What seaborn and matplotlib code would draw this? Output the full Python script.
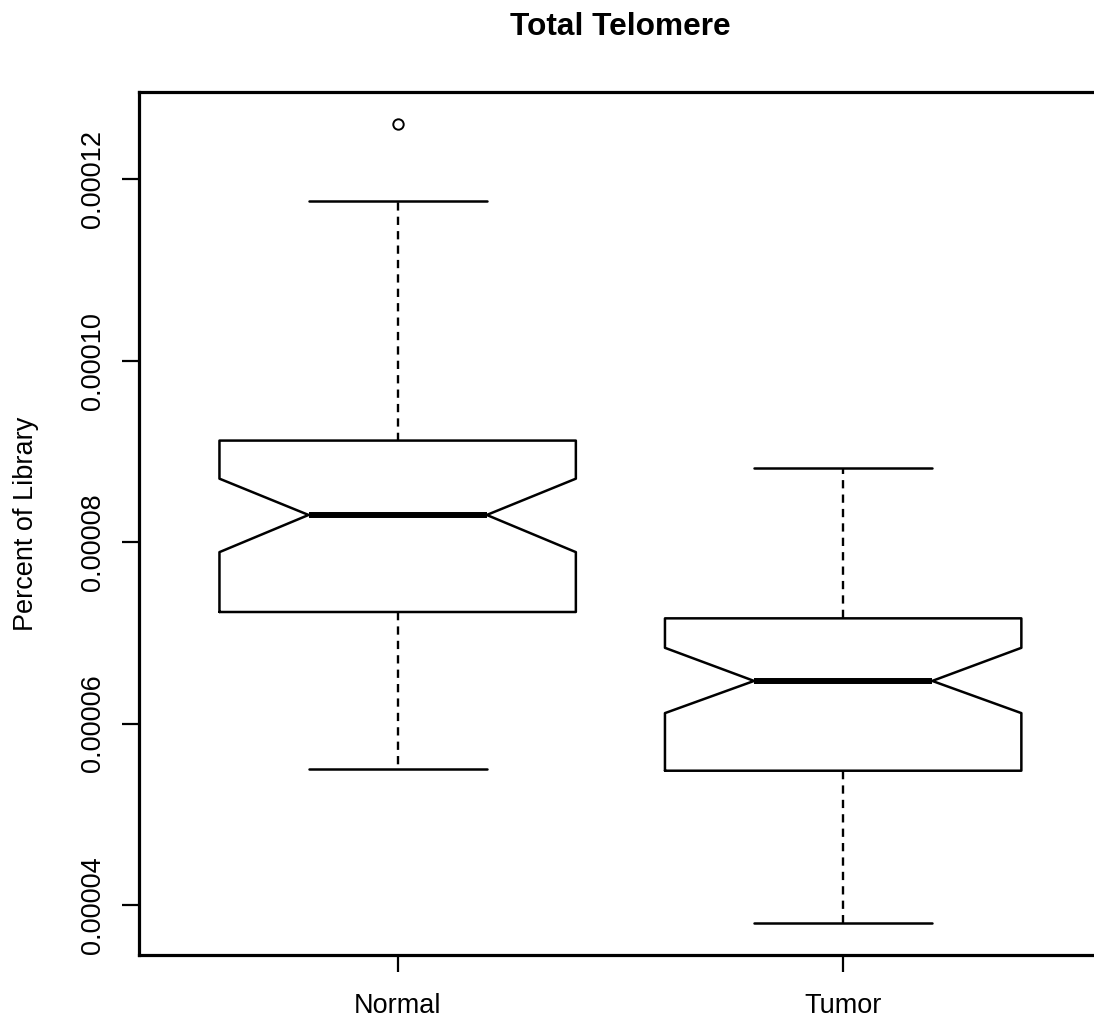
import matplotlib
matplotlib.use("Agg")
import matplotlib.pyplot as plt
import seaborn as sns

# Summary statistics for each group (fraction of library)
groups = ["Normal", "Tumor"]
medians = [8.30e-5, 6.47e-5]
lower_quartiles = [7.23e-5, 5.48e-5]
upper_quartiles = [9.12e-5, 7.16e-5]
whisker_low = [5.50e-5, 3.80e-5]
whisker_high = [11.76e-5, 8.82e-5]
notch_low = [7.89e-5, 6.115e-5]
notch_high = [8.70e-5, 6.835e-5]
outliers = [[12.61e-5], []]

y_ticks = [0.00004, 0.00006, 0.00008, 0.00010, 0.00012]
y_tick_labels = ["0.00004", "0.00006", "0.00008", "0.00010", "0.00012"]

sns.set_theme(style="ticks")
plt.rcParams["font.family"] = ["Liberation Sans", "DejaVu Sans"]

fig = plt.figure(figsize=(10.94, 10.21), dpi=100)
ax = fig.add_axes([0.1273, 0.0646, 0.8796, 0.8452])

stats = []
for i, g in enumerate(groups):
    stats.append(dict(label=g, med=medians[i], q1=lower_quartiles[i],
                      q3=upper_quartiles[i], whislo=whisker_low[i],
                      whishi=whisker_high[i], cilo=notch_low[i],
                      cihi=notch_high[i], fliers=outliers[i]))

positions = list(range(1, len(groups) + 1))
ax.bxp(stats, positions=positions, widths=0.8, shownotches=True,
       boxprops=dict(color="black", linewidth=1.8),
       medianprops=dict(color="black", linewidth=4.3, solid_capstyle="butt"),
       whiskerprops=dict(color="black", linewidth=1.7,
                         linestyle=(0, (3.5, 2.6))),
       capprops=dict(color="black", linewidth=1.8),
       flierprops=dict(marker="o", markersize=7.5, markerfacecolor="none",
                       markeredgecolor="black", markeredgewidth=1.4))

# R-style axis ranges: 4% padding around the data
all_vals = whisker_low + whisker_high + [v for f in outliers for v in f]
lo, hi = min(all_vals), max(all_vals)
pad = 0.04 * (hi - lo)
ax.set_ylim(lo - pad, hi + pad)
ax.set_xlim(0.5 - 0.08, len(groups) + 0.5 + 0.08)

ax.set_xticks(positions, groups)
ax.set_yticks(y_ticks, y_tick_labels)
for lab in ax.get_yticklabels():
    lab.set_rotation(90)
    lab.set_va("center")

ax.tick_params(axis="both", direction="out", length=12.2, width=1.6,
               color="black", labelsize=19.5, labelcolor="black")
ax.tick_params(axis="x", pad=15)
ax.tick_params(axis="y", pad=12)

for side in ["left", "bottom", "top", "right"]:
    ax.spines[side].set_visible(True)
    ax.spines[side].set_color("black")
    ax.spines[side].set_linewidth(2.3)

ax.set_ylabel("Percent of Library", fontsize=19.5, color="black")
ax.yaxis.set_label_coords(-0.104, 0.5)
ax.set_xlabel("")

fig.text(0.5672, 1 - 35 / 1021, "Total Telomere", ha="center", va="baseline",
         fontsize=22.8, fontweight="bold", color="black")

fig.savefig("out.png", dpi=100, facecolor="white")
